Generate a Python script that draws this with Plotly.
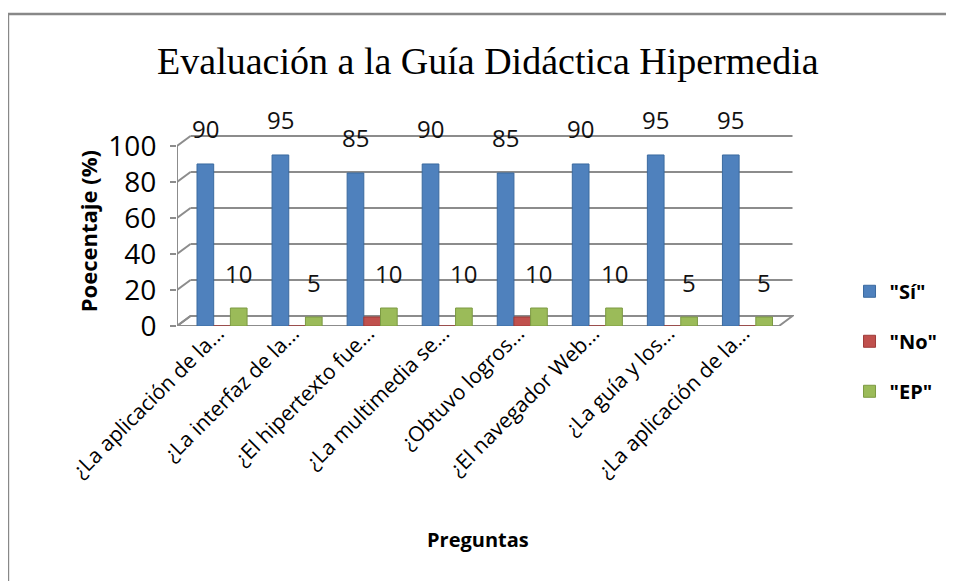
import plotly.graph_objects as go

# Data
preguntas = [
    "¿La aplicación de la...",
    "¿La interfaz de la...",
    "¿El hipertexto fue...",
    "¿La multimedia se...",
    "¿Obtuvo logros...",
    "¿El navegador Web...",
    "¿La guía y los...",
    "¿La aplicación de la...",
]
si = [90, 95, 85, 90, 85, 90, 95, 95]
no = [0, 0, 5, 0, 5, 0, 0, 0]
ep = [10, 5, 10, 10, 10, 10, 5, 5]

series = [
    ('"Sí"', si, "#4F81BD", "#3B6A9F", True),
    ('"No"', no, "#C0504D", "#9E3B39", False),
    ('"EP"', ep, "#9BBB59", "#7C9A43", True),
]

x_idx = list(range(len(preguntas)))
fig = go.Figure()

for i, (name, vals, colour, edge, labelled) in enumerate(series):
    fig.add_trace(
        go.Bar(
            x=x_idx,
            y=vals,
            name=f"<b>{name}</b>",
            legendgroup=name,
            marker=dict(color=colour, line=dict(color=edge, width=1)),
        )
    )

# data labels (the "No" series carries none)
annotations = []
bar_px = 16.7
for i, (name, vals, colour, edge, labelled) in enumerate(series):
    if not labelled:
        continue
    for xi, v in zip(x_idx, vals):
        annotations.append(dict(
            x=xi, y=v, xref="x", yref="y", text=str(v), showarrow=False,
            xshift=(i - 1) * bar_px, yshift=35, yanchor="middle",
            font=dict(family="Open Sans", size=24, color="#111111"),
        ))

annotations += [
    dict(text="<b>Poecentaje (%)</b>", x=-0.144, y=0.497, xref="paper", yref="paper",
         xanchor="center", yanchor="middle", textangle=-90, showarrow=False,
         font=dict(family="Open Sans", size=22, color="black")),
    dict(text="<b>Preguntas</b>", x=0.488, y=-1.12, xref="paper", yref="paper",
         xanchor="center", yanchor="middle", showarrow=False,
         font=dict(family="Open Sans", size=20, color="black")),
]

# 3D-style walls: floor, side-wall diagonals, back-wall gridlines
grey = "#8C8C8C"
dx, dy = 0.18, 5.56
x_left, x_right = -0.6, 7.42
shapes = [
    dict(type="path", xref="x", yref="y", layer="below",
         path=f"M {x_left},0 L {x_right},0 L {x_right + dx},{dy} L {x_left + dx},{dy} Z",
         line=dict(color=grey, width=2), fillcolor="white"),
    dict(type="line", xref="x", yref="y", layer="below",
         x0=x_left, y0=0, x1=x_left, y1=100, line=dict(color=grey, width=2)),
]
for k in range(0, 101, 20):
    shapes.append(dict(type="line", xref="x", yref="y", layer="below",
                       x0=x_left, y0=k, x1=x_left + dx, y1=k + dy,
                       line=dict(color=grey, width=2)))
    if k > 0:
        shapes.append(dict(type="line", xref="x", yref="y", layer="below",
                           x0=x_left + dx, y0=k + dy, x1=x_right + dx, y1=k + dy,
                           line=dict(color=grey, width=2)))
# outer chart border
shapes.append(dict(type="rect", xref="paper", yref="paper",
                   x0=-0.274, y0=-1.4, x1=1.3, y1=1.633,
                   line=dict(color="#888888", width=2.5)))

fig.update_layout(
    width=954,
    height=581,
    margin=dict(l=169, r=168, t=127, b=263, autoexpand=False),
    paper_bgcolor="white",
    plot_bgcolor="rgba(0,0,0,0)",
    barmode="group",
    bargap=0.333,
    bargroupgap=0,
    title=dict(text="Evaluación a la Guía Didáctica Hipermedia", x=0.503, xref="container",
               y=0.91, yref="container", yanchor="middle", xanchor="center",
               font=dict(family="Liberation Serif", size=38, color="black")),
    xaxis=dict(range=[-0.6, 7.62], tickmode="array", tickvals=x_idx, ticktext=preguntas,
               tickangle=-45, showgrid=False, zeroline=False, showline=False, ticks="",
               automargin=False, ticklabelshift=-4, ticklabelstandoff=-10,
               tickfont=dict(family="Open Sans", size=21, color="black")),
    yaxis=dict(range=[0, 106.1], tickvals=[0, 20, 40, 60, 80, 100], showgrid=False,
               zeroline=False, showline=False, ticks="outside", ticklen=6, tickwidth=2,
               automargin=False, tickcolor=grey, ticklabelstandoff=8,
               tickfont=dict(family="Open Sans", size=28, color="black")),
    legend=dict(x=1.09, y=-0.08, xanchor="left", yanchor="middle",
                traceorder="grouped", tracegroupgap=21,
                font=dict(family="Open Sans", size=20, color="black")),
    shapes=shapes,
    annotations=annotations,
    showlegend=True,
)

fig.write_html("out.html")
